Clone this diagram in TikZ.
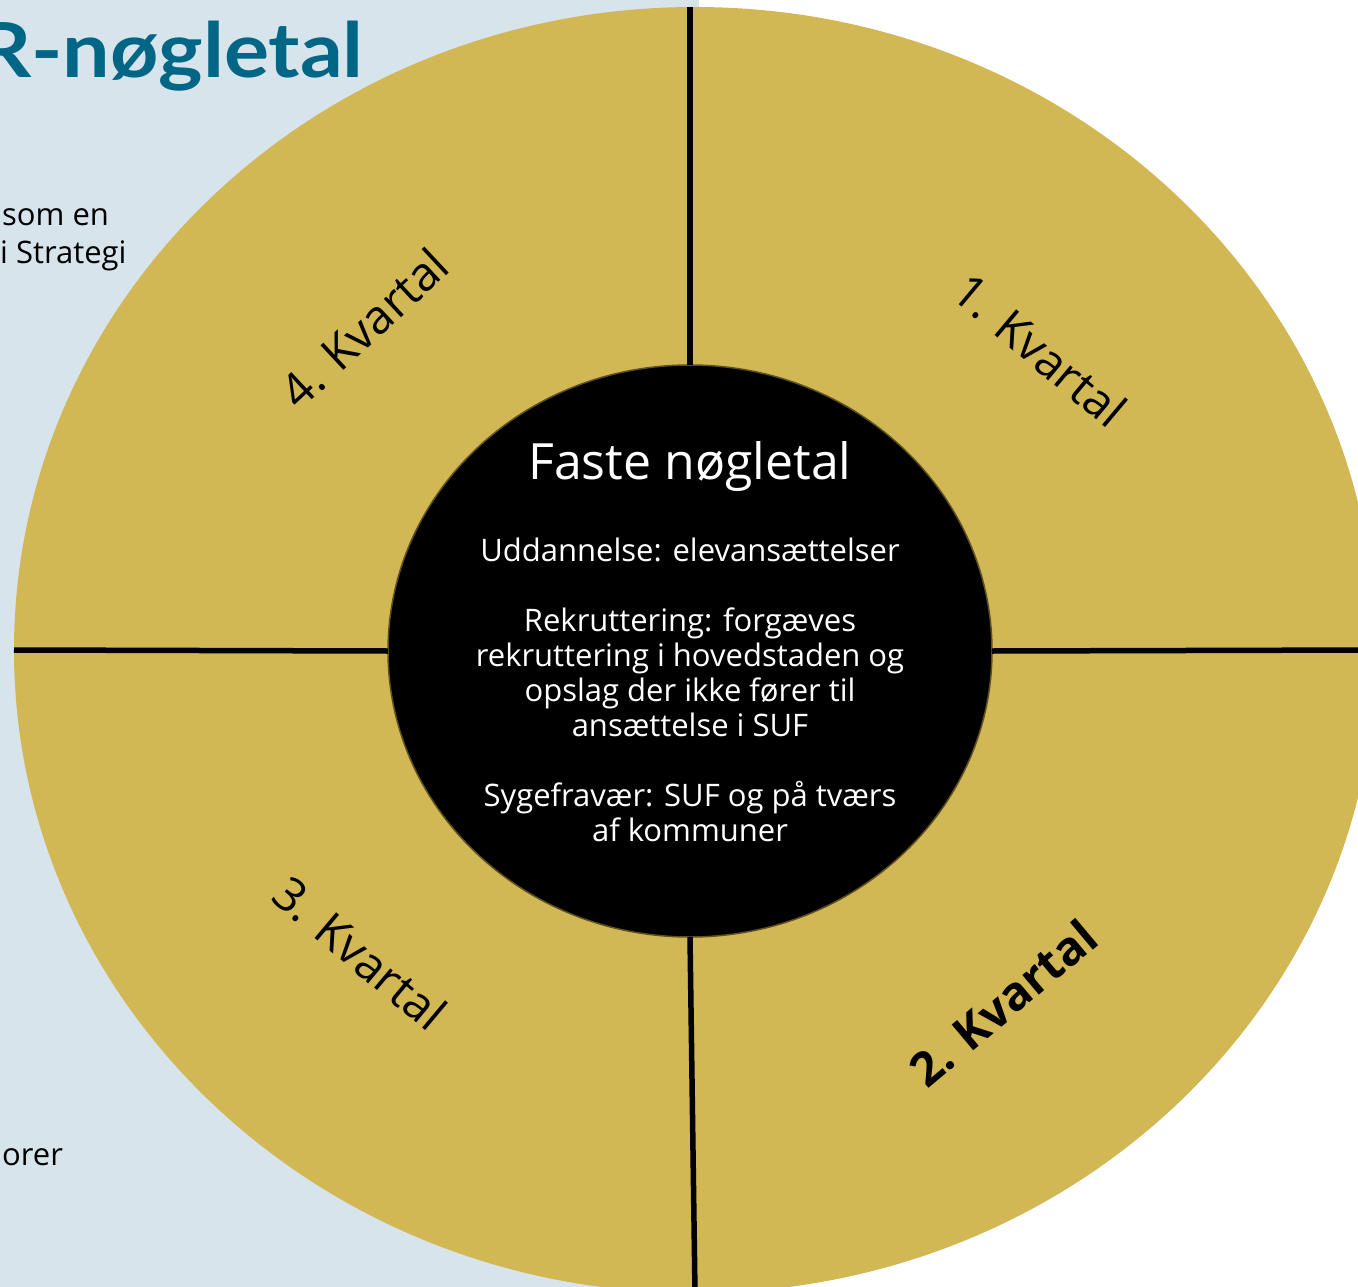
\documentclass[tikz,border=0pt]{standalone}
\usepackage{fontspec}
\setmainfont{Open Sans}
\newfontfamily\headfont{Lato}[FakeStretch=1.11]
\usetikzlibrary{shapes.geometric,positioning}

\definecolor{panelblue}{HTML}{D7E4EC}
\definecolor{wheelgold}{HTML}{D2B755}
\definecolor{headteal}{HTML}{006685}
\definecolor{hubrim}{HTML}{5E5120}

\begin{document}
\begin{tikzpicture}[x=1pt, y=-1pt,
    quarter/.style={font=\fontsize{47}{50}\selectfont, inner sep=0pt},
    spoke/.style={line width=5.5pt, black},
    sidetext/.style={font=\fontsize{31}{38}\selectfont, anchor=base west, inner sep=0pt}]
  \useasboundingbox (0,0) rectangle (1358,1287);
  \clip (0,0) rectangle (1358,1287);
  \fill[panelblue] (0,0) rectangle (699,1287);

  % text of the page behind the wheel
  \node[anchor=base east, inner sep=0pt, text=headteal,
        font=\fontsize{76}{80}\headfont\bfseries] (head) at (364,78) {R-nøgletal};
  \node[sidetext] (sideA) at (2,225) {som en};
  \node[sidetext] (sideB) at (0,263) {i Strategi};
  \node[sidetext] (sideC) at (2,1165) {orer};

  % wheel and hub
  \node[ellipse, fill=wheelgold, minimum width=1362pt, minimum height=1286pt,
        inner sep=0pt, outer sep=0pt] (wheel) at (695,650) {};
  \node[ellipse, fill=black, draw=hubrim, line width=1.5pt, minimum width=604pt,
        minimum height=572pt, inner sep=0pt, outer sep=0pt] (hub) at (690,651) {};
  \draw[spoke] (hub.north) -- (hub.north |- wheel.north);
  \draw[spoke] (hub.south) -- (wheel.south);
  \draw[spoke] (hub.west) -- (wheel.west);
  \draw[spoke] (hub.east) -- (wheel.east);

  \node[text=white, font=\fontsize{50}{54}\selectfont] (title) at (690,467) {Faste nøgletal};
  \node[text=white, align=center, font=\fontsize{31}{35}\selectfont] (body) at (690,690)
    {Uddannelse: elevansættelser\\[35pt]
     Rekruttering: forgæves\\
     rekruttering i hovedstaden og\\
     opslag der ikke fører til\\
     ansættelse i SUF\\[35pt]
     Sygefravær: SUF og på tværs\\
     af kommuner};

  % quarters
  \node[quarter, rotate=-40] (q1) at (1040,350) {1. Kvartal};
  \node[quarter, rotate=40, font=\fontsize{47}{50}\selectfont\bfseries] (q2) at (1003,1003) {2. Kvartal};
  \node[quarter, rotate=-40] (q3) at (360,953) {3. Kvartal};
  \node[quarter, rotate=43] (q4) at (364,328) {4. Kvartal};
\end{tikzpicture}
\end{document}
